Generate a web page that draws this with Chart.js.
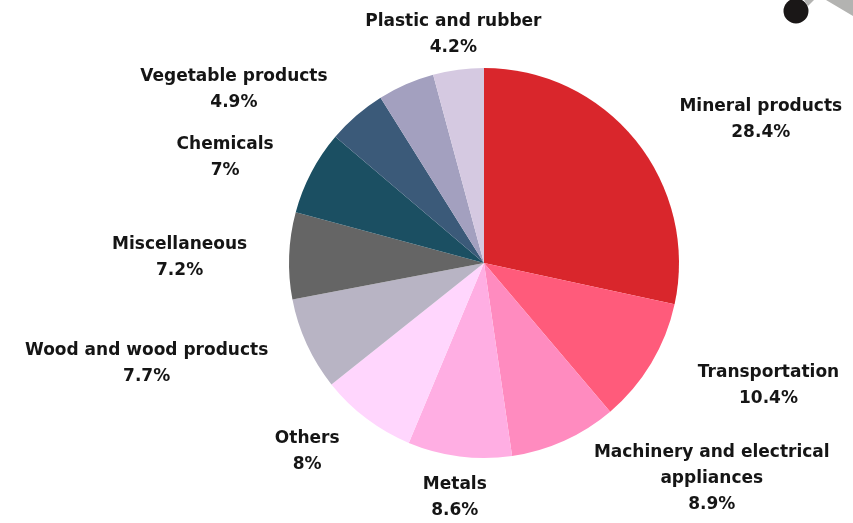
<!DOCTYPE html>
<html>
<head>
<meta charset="utf-8">
<script src="https://cdn.jsdelivr.net/npm/chart.js@4"></script>
<style>
  html, body { margin: 0; padding: 0; background: #fff; }
  #wrap { width: 853px; height: 523px; position: relative; }
</style>
</head>
<body>
<div id="wrap"><canvas id="pie-chart"></canvas></div>
<script>
// slices, clockwise from the top
var categories = [
    "Mineral products",
    "Transportation",
    "Machinery and electrical\nappliances",
    "Metals",
    "Others",
    "Wood and wood products",
    "Miscellaneous",
    "Chemicals",
    "Vegetable products",
    "",
    "Plastic and rubber"
];
var shares = [28.4, 10.4, 8.9, 8.6, 8, 7.7, 7.2, 7, 4.9, 4.7, 4.2];
var sliceColors = [
    "#d9262c", "#ff5b7b", "#ff8bbf", "#ffaee3", "#ffd6fd",
    "#b8b4c4", "#656565", "#1b4f62", "#3b5a79", "#a3a0bf", "#d5c9e1"
];

var FONT = "bold 17px 'DejaVu Sans', sans-serif";
var LINE_H = 26;

// labels outside the pie: name on top, percentage under it
var outsideLabels = {
    id: "outsideLabels",
    afterDatasetsDraw: function(chart) {
        var ctx = chart.ctx;
        var arcs = chart.getDatasetMeta(0).data;
        ctx.save();
        ctx.font = FONT;
        ctx.fillStyle = "#151515";
        ctx.textBaseline = "middle";
        for (var i = 0; i < arcs.length; i++) {
            if (!categories[i]) continue;
            var a = arcs[i];
            var mid = (a.startAngle + a.endAngle) / 2;
            var r = a.outerRadius + 38;
            var ax = a.x + Math.cos(mid) * r;
            var ay = a.y + Math.sin(mid) * r + 3;
            var lines = categories[i].split("\n");
            lines.push(shares[i] + "%");
            var w = 0;
            for (var j = 0; j < lines.length; j++) {
                w = Math.max(w, ctx.measureText(lines[j]).width);
            }
            var side = Math.cos(mid);
            var cx = ax;
            if (side > 0.35) cx = ax + 14 + w / 2;
            else if (side < -0.35) cx = ax - 4 - w / 2;
            var top = ay - (lines.length - 1) * LINE_H / 2;
            ctx.textAlign = "center";
            for (var j = 0; j < lines.length; j++) {
                ctx.fillText(lines[j], cx, top + j * LINE_H);
            }
        }
        ctx.restore();
    }
};

// little grey/black ornament in the top right corner
var corner = {
    id: "corner",
    afterDraw: function(chart) {
        var ctx = chart.ctx;
        ctx.save();
        ctx.fillStyle = "#b3b3b1";
        ctx.beginPath();
        ctx.moveTo(826, 0);
        ctx.lineTo(853, 0);
        ctx.lineTo(853, 16);
        ctx.closePath();
        ctx.fill();
        ctx.beginPath();
        ctx.moveTo(804, 0);
        ctx.lineTo(814, 0);
        ctx.lineTo(808, 6);
        ctx.closePath();
        ctx.fill();
        ctx.fillStyle = "#1a1717";
        ctx.beginPath();
        ctx.arc(796, 11, 12.5, 0, Math.PI * 2);
        ctx.fill();
        ctx.restore();
    }
};

var ctx = document.getElementById("pie-chart");

var data = {
    labels: categories,
    datasets: [
        {
            label: "Share",
            data: shares,
            backgroundColor: sliceColors,
            borderWidth: 0
        }
    ]
};

var chart = new Chart(ctx, {
    type: "pie",
    data: data,
    options: {
        responsive: true,
        maintainAspectRatio: false,
        animation: false,
        layout: { padding: { top: 68, bottom: 65, left: 289, right: 174 } },
        plugins: {
            legend: { display: false },
            tooltip: { enabled: true }
        }
    },
    plugins: [outsideLabels, corner]
});
</script>
</body>
</html>
